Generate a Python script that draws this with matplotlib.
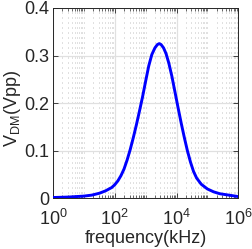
import matplotlib
matplotlib.use("Agg")
import matplotlib.pyplot as plt
from matplotlib.ticker import LogLocator, FixedLocator, NullFormatter

plt.rcParams['font.family'] = ['Liberation Sans', 'DejaVu Sans']
plt.rcParams['mathtext.fontset'] = 'custom'
plt.rcParams['mathtext.rm'] = 'Liberation Sans'
plt.rcParams['mathtext.it'] = 'Liberation Sans'
plt.rcParams['mathtext.default'] = 'regular'
plt.rcParams['lines.scale_dashes'] = False

# data: log10 of frequency (kHz) and amplitude (Vpp)
freq_exp = [0.0, 0.5, 1.0, 1.25, 1.5, 1.7, 1.9, 2.0, 2.1, 2.2, 2.3, 2.4, 2.5,
            2.6, 2.7, 2.8, 2.9, 3.0, 3.1, 3.2, 3.3, 3.38, 3.44, 3.5, 3.58,
            3.66, 3.75, 3.85, 3.95, 4.05, 4.15, 4.25, 4.35, 4.45, 4.55, 4.65,
            4.8, 5.0, 5.2, 5.4, 5.6, 5.8, 6.0]
v_dm = [0.001, 0.002, 0.004, 0.006, 0.010, 0.015, 0.022, 0.028, 0.036, 0.047,
        0.061, 0.080, 0.102, 0.127, 0.154, 0.183, 0.213, 0.246, 0.278, 0.302,
        0.316, 0.323, 0.325, 0.323, 0.316, 0.304, 0.284, 0.256, 0.223, 0.190,
        0.158, 0.128, 0.100, 0.076, 0.056, 0.042, 0.029, 0.019, 0.013, 0.009,
        0.007, 0.005, 0.003]
freq_khz = [10 ** e for e in freq_exp]

x_ticks = [1e0, 1e2, 1e4, 1e6]
x_tick_labels = ['$10^0$', '$10^2$', '$10^4$', '$10^6$']
y_ticks = [0, 0.1, 0.2, 0.3, 0.4]
y_tick_labels = ['0', '0.1', '0.2', '0.3', '0.4']

fig = plt.figure(figsize=(2.53, 2.49), dpi=100)
ax = fig.add_axes([53/253, 51/249, 185.3/253, 190/249])

ax.plot(freq_khz, v_dm, color=(0, 0, 1), lw=2.1, solid_capstyle='round',
        solid_joinstyle='round', zorder=3)

ax.set_xscale('log')
ax.set_xlim(1, 1e6)
ax.set_ylim(0, 0.4)

ax.xaxis.set_major_locator(FixedLocator(x_ticks))
ax.set_xticklabels(x_tick_labels)
ax.xaxis.set_minor_locator(LogLocator(base=10, subs=range(1, 10), numticks=20))
ax.xaxis.set_minor_formatter(NullFormatter())
ax.set_yticks(y_ticks)
ax.set_yticklabels(y_tick_labels)

ax.grid(True, which='major', color='#e0e0e0', lw=0.9, ls='-', zorder=0)
ax.grid(True, which='minor', axis='x', color='#c0c0c0', lw=0.7, ls=(0, (0.7, 2.9)), zorder=0)

ax.tick_params(which='both', direction='in', top=True, right=True, colors='#262626',
               labelcolor='#262626', labelsize=13)
ax.tick_params(which='major', length=3.5, width=0.6)
ax.tick_params(which='minor', length=2, width=0.5)
ax.tick_params(axis='x', pad=8)
ax.tick_params(axis='y', pad=2.5)
for s in ax.spines.values():
    s.set_color('#262626')
    s.set_linewidth(0.7)

ax.set_xlabel('frequency(kHz)', fontsize=13, color='#262626', labelpad=0.5)
ax.set_ylabel(r'V$_{\mathrm{DM}}$(Vpp)', fontsize=13, color='#262626', labelpad=2)
ax.yaxis.set_label_coords(-0.16, 0.47)

fig.savefig('out.png', dpi=100)
